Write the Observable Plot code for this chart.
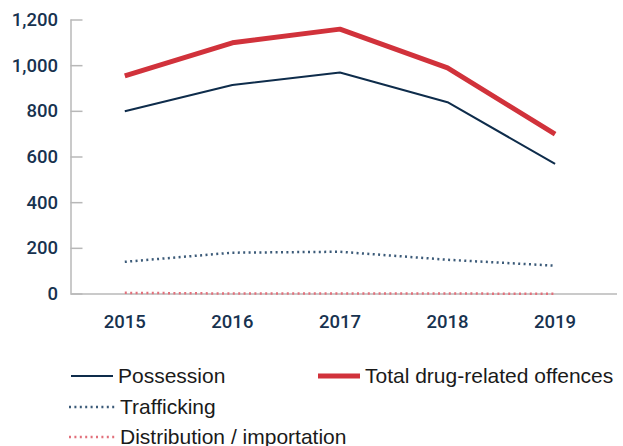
<!DOCTYPE html>
<html>
<head>
<meta charset="utf-8">
<script src="https://cdn.jsdelivr.net/npm/d3@7"></script>
<script src="https://cdn.jsdelivr.net/npm/@observablehq/plot@0.6"></script>
<style>
  html, body { margin: 0; padding: 0; background: #fff; }
  #wrap { position: relative; width: 623px; height: 446px; overflow: hidden; }
  #chart svg { display: block; }
  .leg { position: absolute; display: flex; align-items: center; font-family: "Liberation Sans", Arial, sans-serif; font-size: 21px; color: #1a1a1a; white-space: nowrap; }
  .leg svg { display: block; margin-right: 5px; }
</style>
</head>
<body>
<div id="wrap">
  <div id="chart"></div>
  <div id="legend"></div>
</div>
<script>
const years = [2015, 2016, 2017, 2018, 2019];
const possession = [800, 915, 970, 840, 570];
const trafficking = [141, 181, 185, 150, 124];
const distribution = [5, 2, 2, 2, 1];
const total = [955, 1100, 1160, 990, 700];
const yTicks = [0, 200, 400, 600, 800, 1000, 1200];

const seriesNames = ["Distribution / importation", "Trafficking", "Possession", "Total drug-related offences"];
const seriesValues = [distribution, trafficking, possession, total];
const styles = {
  "Possession": {stroke: "#0e2c4b", strokeWidth: 2},
  "Trafficking": {stroke: "#3b5a78", strokeWidth: 2.5, strokeDasharray: "2 3.4"},
  "Distribution / importation": {stroke: "#e2707b", strokeWidth: 2.5, strokeDasharray: "2 3.4"},
  "Total drug-related offences": {stroke: "#d1323b", strokeWidth: 5}
};

const rows = [];
seriesNames.forEach((name, i) => years.forEach((yr, j) => rows.push({series: name, year: yr, value: seriesValues[i][j]})));

const axisColor = "#b8b8b8";
const labelColor = "#17324f";

const lineMarks = seriesNames.map(name => Plot.line(rows.filter(r => r.series === name), {
  x: "year", y: "value", ...styles[name], strokeLinejoin: "miter", strokeLinecap: "butt"
}));

const chart = Plot.plot({
  width: 623,
  height: 345,
  marginLeft: 70.5,
  marginRight: 6,
  marginTop: 19.5,
  marginBottom: 51.5,
  style: {fontFamily: "Roboto, sans-serif", fontSize: "18.5px", fontWeight: 500, color: labelColor, background: "#fff"},
  x: {type: "linear", domain: [2014.5, 2019.58]},
  y: {domain: [0, 1200]},
  marks: [
    Plot.axisY({ticks: yTicks, tickSize: 12, dx: 12, tickFormat: () => "", stroke: axisColor, strokeWidth: 1.5, label: null}),
    Plot.axisY({ticks: yTicks, tickSize: 0, tickPadding: 13, tickFormat: d => d3.format(",")(d), fill: labelColor, label: null}),
    Plot.axisX({ticks: years, tickSize: 0, tickPadding: 21, tickFormat: d => String(d), fill: labelColor, label: null}),
    Plot.ruleX([2014.5], {stroke: axisColor, strokeWidth: 1.5}),
    Plot.ruleY([0], {stroke: axisColor, strokeWidth: 1.5}),
    ...lineMarks
  ]
});
document.getElementById("chart").appendChild(chart);

// Legend (HTML below the SVG)
const legendItems = [
  {name: "Possession", left: 71, top: 364, w: 42},
  {name: "Total drug-related offences", left: 318, top: 364, w: 42},
  {name: "Trafficking", left: 69, top: 395, w: 46},
  {name: "Distribution / importation", left: 69, top: 425, w: 46}
];
const legend = document.getElementById("legend");
legendItems.forEach(it => {
  const s = styles[it.name];
  const div = document.createElement("div");
  div.className = "leg";
  div.style.left = it.left + "px";
  div.style.top = it.top + "px";
  const sw = `<svg width="${it.w}" height="8"><line x1="0" x2="${it.w}" y1="4" y2="4" stroke="${s.stroke}" stroke-width="${s.strokeWidth}" ${s.strokeDasharray ? `stroke-dasharray="${s.strokeDasharray}"` : ""}/></svg>`;
  div.innerHTML = sw + `<span>${it.name}</span>`;
  legend.appendChild(div);
});
</script>
</body>
</html>
